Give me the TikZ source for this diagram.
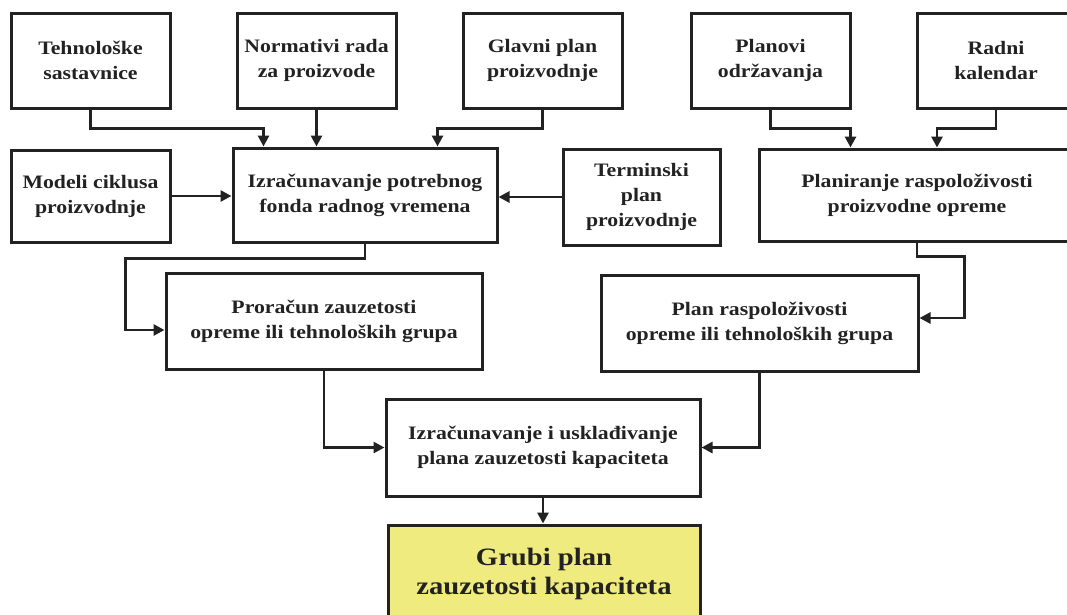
\documentclass[tikz,border=0pt]{standalone}
\usepackage{fontspec}
\setmainfont[FakeStretch=1.145]{Liberation Serif}
\usetikzlibrary{arrows.meta}
\definecolor{ink}{HTML}{222222}
\definecolor{result}{HTML}{EFEB7E}
\begin{document}
\begin{tikzpicture}[x=1pt,y=-1pt,
  box/.style={draw=ink, line width=3pt, fill=white, align=center,
    font=\bfseries\fontsize{19}{25}\selectfont, text=ink, inner sep=0pt},
  resultbox/.style={box, fill=result, font=\bfseries\fontsize{25}{29}\selectfont},
  conn/.style={draw=ink, line width=2.9pt, -{Triangle[length=11pt,width=11pt]}}]
\useasboundingbox (0,0) rectangle (1067,614);

% top row: inputs
\node[box, minimum width=159, minimum height=95] (tech) at (90.5,60.5) {Tehnološke\\sastavnice};
\node[box, minimum width=159, minimum height=95] (norm) at (316.5,60.5) {Normativi rada\\za proizvode};
\node[box, minimum width=159, minimum height=95] (glav) at (542.5,60.5) {Glavni plan\\proizvodnje};
\node[box, minimum width=159, minimum height=95] (odrz) at (770.5,60.5) {Planovi\\održavanja};
\node[box, minimum width=158, minimum height=95] (kal) at (996,60.5) {Radni\\kalendar};

% second row
\node[box, minimum width=159, minimum height=92] (model) at (90.5,196) {Modeli ciklusa\\proizvodnje};
\node[box, minimum width=264, minimum height=94] (fond) at (365,195) {Izračunavanje potrebnog\\fonda radnog vremena};
\node[box, minimum width=157, minimum height=96] (term) at (641.5,197) {Terminski\\plan\\proizvodnje};
\node[box, minimum width=316, minimum height=92] (rasp) at (917,195) {Planiranje raspoloživosti\\proizvodne opreme};

% third row
\node[box, minimum width=316, minimum height=96] (zauz) at (324,321) {Proračun zauzetosti\\opreme ili tehnoloških grupa};
\node[box, minimum width=317, minimum height=96] (prasp) at (759.5,323) {Plan raspoloživosti\\opreme ili tehnoloških grupa};

% balancing and result
\node[box, minimum width=314, minimum height=97] (uskl) at (543,447.5) {Izračunavanje i usklađivanje\\plana zauzetosti kapaciteta};
\node[resultbox, minimum width=312, minimum height=100, text depth=0pt] (grubi) at (544,575) {\raisebox{22pt}{\parbox{300pt}{\centering Grubi plan\\zauzetosti kapaciteta}}};

% entry points on the receiving boxes
\coordinate (fondA) at ([xshift=32pt]fond.north west);
\coordinate (fondB) at ([xshift=-61pt]fond.north east);
\coordinate (raspA) at ([xshift=93pt]rasp.north west);
\coordinate (raspB) at ([xshift=20pt]rasp.north);
\coordinate (zauzIn) at ([yshift=-9pt]zauz.west);
\coordinate (praspIn) at ([yshift=5pt]prasp.east);

% connectors
\draw[conn] (tech.south) -- ++(0,19) -| (fondA);
\draw[conn] (norm.south) -- (norm.south |- fond.north);
\draw[conn] (glav.south) -- ++(0,19) -| (fondB);
\draw[conn] (model.east) -- (model.east -| fond.west);
\draw[conn] (term.west) -- (term.west -| fond.east);
\draw[conn] (odrz.south) -- ++(0,19) -| (raspA);
\draw[conn] (kal.south) -- ++(0,19) -| (raspB);
\draw[conn] (fond.south) -- ++(0,15) -| ([xshift=-39pt]zauzIn) -- (zauzIn);
\draw[conn] (rasp.south) -- ++(0,14) -| ([xshift=45pt]praspIn) -- (praspIn);
\draw[conn] (zauz.south) |- (uskl.west);
\draw[conn] (prasp.south) |- (uskl.east);
\draw[conn] (uskl.south) -- (uskl.south |- grubi.north);
\end{tikzpicture}
\end{document}
